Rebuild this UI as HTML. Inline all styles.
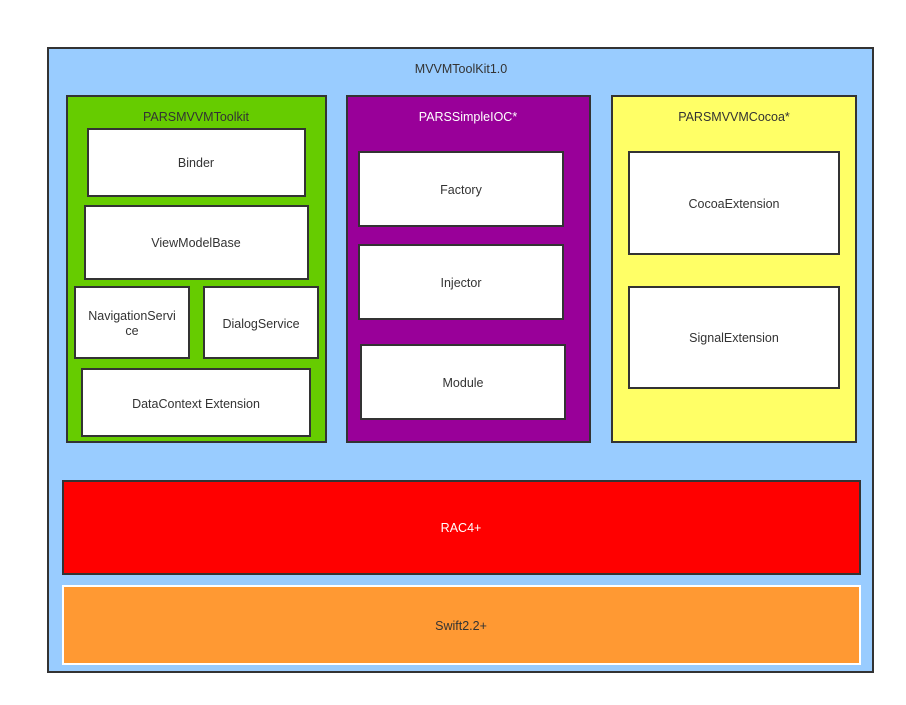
<!DOCTYPE html>
<html><head><style>html,body{margin:0;padding:0;background:#fff;width:906px;height:705px;overflow:hidden}</style></head>
<body>
<svg width="906" height="705" xmlns="http://www.w3.org/2000/svg" font-family="Liberation Sans, DejaVu Sans, sans-serif" font-size="12.5" text-anchor="middle">
<g stroke="#333" stroke-width="2">
<rect x="48" y="48" width="825" height="624" fill="#99ccff"/>
<rect x="67" y="96" width="259" height="346" fill="#66cc00"/>
<rect x="88" y="129" width="217" height="67" fill="#fff"/>
<rect x="85" y="206" width="223" height="73" fill="#fff"/>
<rect x="75" y="287" width="114" height="71" fill="#fff"/>
<rect x="204" y="287" width="114" height="71" fill="#fff"/>
<rect x="82" y="369" width="228" height="67" fill="#fff"/>
<rect x="347" y="96" width="243" height="346" fill="#990099"/>
<rect x="359" y="152" width="204" height="74" fill="#fff"/>
<rect x="359" y="245" width="204" height="74" fill="#fff"/>
<rect x="361" y="345" width="204" height="74" fill="#fff"/>
<rect x="612" y="96" width="244" height="346" fill="#ffff66"/>
<rect x="629" y="152" width="210" height="102" fill="#fff"/>
<rect x="629" y="287" width="210" height="101" fill="#fff"/>
<rect x="63" y="481" width="797" height="93" fill="#ff0000"/>
</g>
<rect x="63" y="586" width="797" height="78" fill="#ff9933" stroke="#fff" stroke-width="2"/>
<g fill="#333">
<text x="461" y="73">MVVMToolKit1.0</text>
<text x="196" y="121">PARSMVVMToolkit</text>
<text x="196" y="167">Binder</text>
<text x="196" y="247">ViewModelBase</text>
<text x="132" y="320">NavigationServi</text>
<text x="132" y="335">ce</text>
<text x="261" y="328">DialogService</text>
<text x="196" y="408">DataContext Extension</text>
<text x="461" y="194">Factory</text>
<text x="461" y="287">Injector</text>
<text x="463" y="387">Module</text>
<text x="734" y="121">PARSMVVMCocoa*</text>
<text x="734" y="208">CocoaExtension</text>
<text x="734" y="342">SignalExtension</text>
<text x="461" y="630">Swift2.2+</text>
</g>
<g fill="#fff">
<text x="468" y="121">PARSSimpleIOC*</text>
<text x="461" y="532">RAC4+</text>
</g>
</svg>
</body></html>
